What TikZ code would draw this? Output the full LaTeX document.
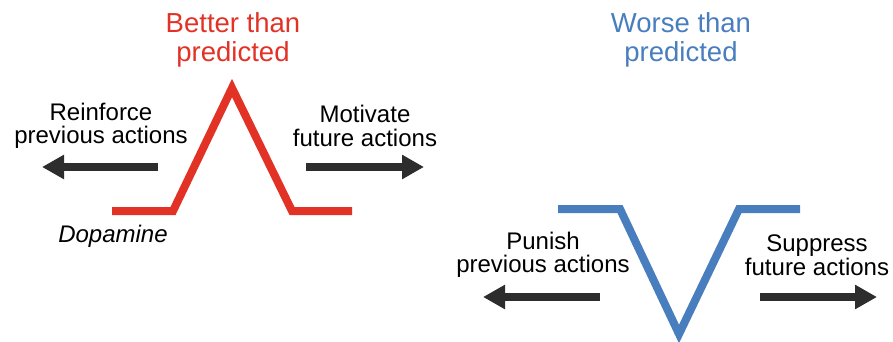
\documentclass[tikz,border=0pt]{standalone}
\usepackage{fontspec}
\setmainfont{Liberation Sans}
\usetikzlibrary{arrows.meta}
\definecolor{dred}{RGB}{226,50,38}
\definecolor{dblue}{RGB}{72,125,190}
\definecolor{darr}{RGB}{45,45,45}
\begin{document}
\begin{tikzpicture}[x=1pt,y=-1pt,
  lbl/.style={align=center,inner sep=0pt,font=\fontsize{24}{23.5}\selectfont},
  ttl/.style={align=center,inner sep=0pt,font=\fontsize{27.5}{28.5}\selectfont},
  trace/.style={line width=8pt},
  bigarrow/.style={draw=darr,line width=8pt,-{Triangle[length=22pt,width=23pt]}}]
\useasboundingbox (0,0) rectangle (893,342);
% red trace
\coordinate (r1) at (112,211);
\coordinate (r2) at (173,211);
\coordinate (r3) at (232,88);
\coordinate (r4) at (292,211);
\coordinate (r5) at (352,211);
\draw[trace,dred] (r1) -- (r2) -- (r3) -- (r4) -- (r5);
% blue trace
\coordinate (b1) at (558,209);
\coordinate (b2) at (620,209);
\coordinate (b3) at (679,334);
\coordinate (b4) at (739,209);
\coordinate (b5) at (800,209);
\draw[trace,dblue] (b1) -- (b2) -- (b3) -- (b4) -- (b5);
% titles
\node[ttl,text=dred] (tb) at (233,40) {Better than\\predicted};
\node[ttl,text=dblue] (tw) at (681,40) {Worse than\\predicted};
% labels
\node[lbl] (reinf) at (101,126) {Reinforce\\previous actions};
\node[lbl] (motiv) at (365,126) {Motivate\\future actions};
\node[lbl,font=\fontsize{24}{23.5}\selectfont\itshape] (dopa) at (113,236) {Dopamine};
\node[lbl] (pun) at (543,255) {Punish\\previous actions};
\node[lbl] (sup) at (817,255) {Suppress\\future actions};
% arrows
\coordinate (a1s) at (158,167); \coordinate (a1e) at (42,167);
\coordinate (a2s) at (306,167); \coordinate (a2e) at (424,167);
\coordinate (a3s) at (600,297); \coordinate (a3e) at (483,297);
\coordinate (a4s) at (760,297); \coordinate (a4e) at (877,297);
\draw[bigarrow] (a1s) -- (a1e);
\draw[bigarrow] (a2s) -- (a2e);
\draw[bigarrow] (a3s) -- (a3e);
\draw[bigarrow] (a4s) -- (a4e);
\end{tikzpicture}
\end{document}
